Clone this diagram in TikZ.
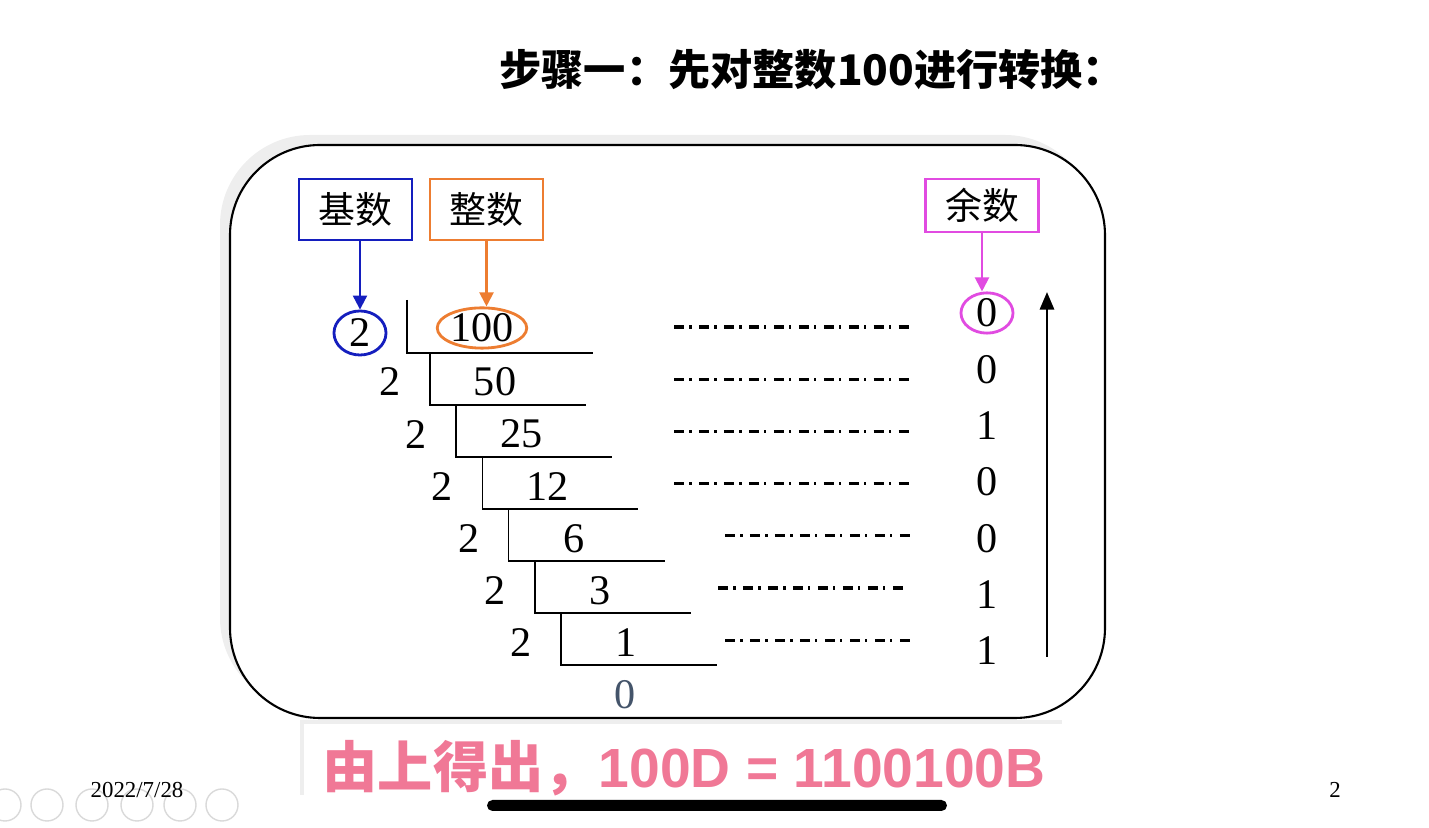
\documentclass[tikz,border=0pt]{standalone}
\usepackage{fontspec}
\setmainfont{Liberation Serif}
\newfontfamily\cjk{Noto Sans CJK SC}
\newfontfamily\arial{Liberation Sans}
\usetikzlibrary{positioning,calc}
\usetikzlibrary{arrows.meta,shapes.geometric}
\definecolor{BaseBlue}{RGB}{20,30,190}
\definecolor{IntOrange}{RGB}{237,125,49}
\definecolor{RemPink}{RGB}{225,75,225}
\definecolor{ResPink}{RGB}{240,120,150}
\definecolor{SlateGray}{RGB}{68,84,106}
\definecolor{ShadowGray}{RGB}{238,238,238}
\tikzset{
	tag/.style={draw,line width=0.8pt,minimum width=1.13cm,minimum height=0.61cm,inner sep=0pt,
		font=\cjk\fontsize{10.5}{12}\selectfont},
	num/.style={font=\fontsize{12}{14}\selectfont,inner sep=1pt},
	ring/.style={ellipse,draw,line width=0.8pt,inner sep=0pt},
	ptr/.style={line width=0.6pt,-{Triangle[length=4pt,width=4pt]}},
	lead/.style={line width=0.9pt,dash pattern=on 2.8pt off 1.6pt on 0.6pt off 2.1pt},
	bar/.style={line width=0.5pt},
}

\begin{document}
\begin{tikzpicture}[x=0.01cm,y=-0.01cm]
	\useasboundingbox (0,0) rectangle (1429,828);
	% title
	\node[anchor=west,font=\cjk\bfseries\fontsize{12}{14}\selectfont] (title) at (487,70) {步骤一：先对整数100进行转换：};
	% frame with its shadow
	\fill[ShadowGray,rounded corners=0.9cm] (220,135) rectangle (1095,708);
	\draw[fill=white,line width=0.6pt,rounded corners=0.9cm] (230,145) rectangle (1105,718);
	% headings
	\node[tag,draw=BaseBlue] (jishu) at (355.5,209.5) {基数};
	\node[tag,draw=IntOrange] (zhengshu) at (486.5,209.5) {整数};
	\node[tag,draw=RemPink,minimum height=0.53cm] (yushu) at (982,205.5) {余数};
	% circled entries
	\node[num,ring,draw=BaseBlue,minimum width=0.52cm,minimum height=0.44cm] (d0) at (360,333) {2};
	\node[num,ring,draw=IntOrange,minimum width=0.72cm,minimum height=0.34cm] (q0) at (482,328) {100};
	\node[num,ring,draw=RemPink,minimum width=0.52cm,minimum height=0.40cm] (r0) at (987,313) {0};
	\draw[ptr,BaseBlue] (d0.north |- jishu.south) -- (d0.north);
	\draw[ptr,IntOrange] (zhengshu.south) -- (zhengshu.south |- q0.north);
	\draw[ptr,RemPink] (yushu.south) -- (yushu.south |- r0.north);
	% first division step
	\draw[bar] (407,300) -- (407,353) -- (593,353);
	\draw[lead] (674,327) -- (910,327);
	% remaining steps
	\foreach \i/\q/\r/\xa/\xb in {1/50/0/674/910,2/25/1/674/910,3/12/0/674/910,4/6/0/725/910,5/3/1/718/905,6/1/1/725/910} {
		\pgfmathsetmacro\xv{430+26.2*(\i-1)}
		\pgfmathsetmacro\yt{353+52*(\i-1)}
		\pgfmathsetmacro\yn{382+52.2*(\i-1)}
		\pgfmathsetmacro\yl{327+52.2*\i}
		\pgfmathsetmacro\yr{313+56.3*\i}
		\draw[bar] (\xv,\yt) -- (\xv,\yt+52) -- (\xv+156,\yt+52);
		\node[num] (d\i) at (\xv-40,\yn) {2};
		\node[num] (q\i) at (\xv+65,\yn) {\q};
		\node[num] (r\i) at (987,\yr) {\r};
		\draw[lead] (\xa,\yl) -- (\xb,\yl);
	}
	\node[num,text=SlateGray] (q7) at (625,695) {0};
	% reading direction
	\coordinate (up0) at (1047,657);
	\coordinate (up1) at (1047,292);
	\draw[line width=0.8pt,-{Triangle[length=5pt,width=4pt]}] (up0) -- (up1);
	% result line
	\draw[ShadowGray,line width=1.4pt] (302,795) -- (302,722) -- (1062,722);
	\node[anchor=west,text=ResPink,inner sep=0pt] (result) at (322,768)
		{\cjk\bfseries\fontsize{15.7}{17}\selectfont 由上得出，\arial\bfseries\fontsize{15.7}{17}\selectfont 100D = 1100100B};
	% slide footer
	\foreach \x in {5,47,92,137,180,222}
		\draw[black!15,line width=0.4pt] (\x,805) circle (16);
	\node[font=\fontsize{6.5}{7}\selectfont,inner sep=0pt] (date) at (137,790) {2022/7/28};
	\node[font=\fontsize{6.5}{7}\selectfont,inner sep=0pt] (page) at (1335,790) {2};
	\fill[rounded corners=0.055cm] (487,800) rectangle (947,811);
\end{tikzpicture}
\end{document}
